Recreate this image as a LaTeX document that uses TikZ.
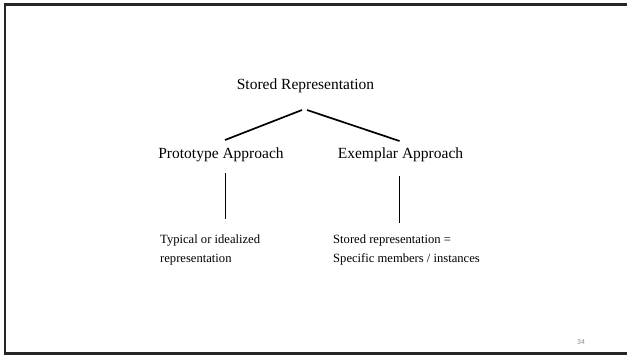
\documentclass[tikz,border=0pt]{standalone}
\usepackage{fontspec}
\setmainfont{Liberation Serif}
\setsansfont{Liberation Sans}
\begin{document}
\begin{tikzpicture}[x=1pt,y=-1pt,
  big/.style={font=\fontsize{15.5}{18}\selectfont, inner sep=0pt},
  small/.style={font=\fontsize{12.6}{19}\selectfont, inner sep=0pt, align=left},
  link/.style={line width=1.7pt, black}]
  \useasboundingbox (0,0) rectangle (627,356);
  \clip (0,0) rectangle (627,356);
  % slide frame (open on the right edge)
  \draw[line width=2.2pt, black!85] (640,4.5) -- (5,4.5) -- (5,353.5) -- (640,353.5);

  % headings
  \node[big, anchor=base] (root) at (305.5,89) {Stored Representation};
  \node[big, anchor=base] (proto) at (221,158) {Prototype Approach};
  \node[big, anchor=base] (exem) at (400.5,158) {Exemplar Approach};

  % descriptions
  \node[small, anchor=north west] (pdesc) at (160,235) {Typical or idealized\\representation};
  \node[small, anchor=north west] (edesc) at (333,235) {Stored representation =\\Specific members / instances};

  % connector ends
  \coordinate (rl) at (302,110);
  \coordinate (rr) at (307,110);
  \coordinate (pl) at (225,140);
  \coordinate (el) at (399.5,141);
  \coordinate (pt) at (225.5,173);
  \coordinate (pb) at (225.5,219);
  \coordinate (et) at (399.5,176);
  \coordinate (eb) at (399.5,223);

  \draw[link] (rl) -- (pl);
  \draw[link] (rr) -- (el);
  \draw[link] (pt) -- (pb);
  \draw[link] (et) -- (eb);

  % page number
  \node[font=\fontsize{7}{8}\sffamily, text=black!45, inner sep=0pt, anchor=base] (num) at (581,344) {34};
\end{tikzpicture}
\end{document}
